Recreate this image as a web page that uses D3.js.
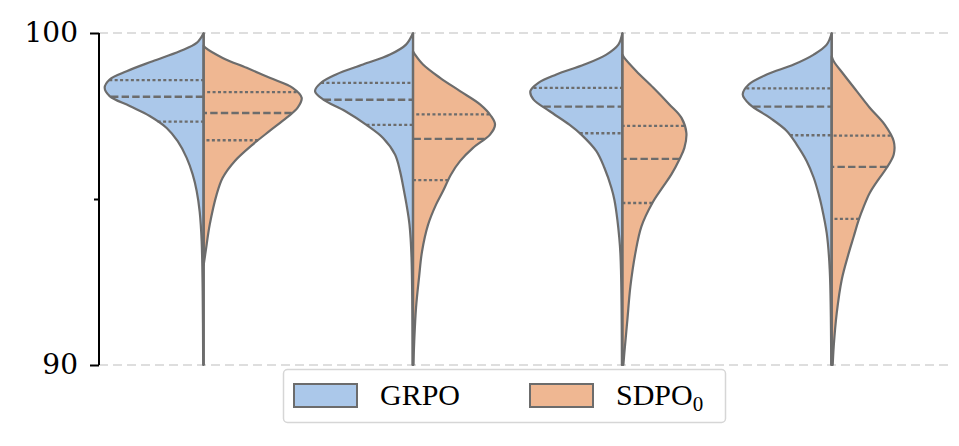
<!DOCTYPE html>
<html>
<head>
<meta charset="utf-8">
<script src="https://cdn.jsdelivr.net/npm/d3@7"></script>
<style>
  body { margin: 0; background: #fff; }
  svg { display: block; }
</style>
</head>
<body>
<div id="chart"></div>
<script>
// Four unlabeled groups on the x axis
const categories = ['1', '2', '3', '4'];
const seriesNames = ['GRPO', 'SDPO'];
const yTicks = [90, 95, 100];
const yTickLabels = ['90', '', '100'];

// Half-violin outlines: [score, relative density]
const grpoProfiles = [
    [[100, 0], [99.70, .07], [99.45, .24], [99.15, .51], [98.85, .77], [98.60, .94], [98.35, .99], [98.10, .94], [97.80, .74], [97.50, .54], [97.14, .37], [96.74, .26], [96.24, .17], [95.74, .11], [95.24, .07], [94.62, .04], [93.72, .02], [92.21, .01], [90, .005]],
    [[100, 0], [99.65, .07], [99.35, .23], [99.05, .50], [98.75, .77], [98.50, .92], [98.25, .98], [98.00, .90], [97.65, .68], [97.24, .47], [96.84, .30], [96.34, .18], [95.84, .13], [95.24, .09], [94.83, .065], [94.22, .035], [93.23, .015], [90, .005]],
    [[100, 0], [99.65, .04], [99.35, .16], [99.05, .38], [98.75, .66], [98.50, .84], [98.25, .92], [98.00, .89], [97.65, .73], [97.24, .53], [96.94, .41], [96.44, .26], [95.94, .18], [95.34, .11], [94.98, .08], [94.37, .05], [93.37, .02], [90, .005]],
    [[100, 0], [99.65, .05], [99.35, .18], [99.05, .38], [98.75, .65], [98.45, .83], [98.15, .89], [97.85, .82], [97.45, .62], [97.05, .45], [96.64, .35], [96.14, .25], [95.64, .18], [95.14, .13], [94.77, .10], [93.97, .05], [92.87, .02], [90, .005]]
];
const sdpoProfiles = [
    [[99.62, 0], [99.55, .02], [99.25, .19], [98.95, .43], [98.65, .66], [98.35, .89], [98.05, .98], [97.75, .94], [97.45, .83], [97.05, .66], [96.64, .49], [96.14, .31], [95.64, .19], [95.14, .13], [94.22, .06], [93.42, .02], [93.02, 0]],
    [[99.45, 0], [99.35, .02], [99.05, .10], [98.65, .27], [98.25, .47], [97.85, .67], [97.50, .78], [97.24, .82], [96.94, .77], [96.54, .60], [96.14, .47], [95.74, .38], [95.24, .30], [94.83, .23], [94.22, .15], [93.42, .09], [92.63, .06], [91.72, .03], [90.70, .012], [90, .004]],
    [[99.35, 0], [99.25, .02], [98.85, .14], [98.35, .31], [97.85, .47], [97.45, .59], [96.99, .64], [96.54, .62], [96.19, .57], [95.74, .49], [95.34, .40], [94.88, .30], [94.17, .19], [93.37, .13], [92.36, .08], [91.36, .05], [90.37, .02], [90, .01]],
    [[99.30, 0], [99.15, .02], [98.75, .12], [98.25, .25], [97.75, .38], [97.24, .53], [96.74, .62], [96.34, .62], [95.94, .55], [95.60, .47], [95.18, .38], [94.77, .32], [94.37, .27], [93.87, .22], [93.37, .17], [92.57, .10], [91.56, .05], [90.56, .02], [90, .01]]
];

// Quartiles [q1, median, q3]
const grpoQuartiles = [[97.33, 98.08, 98.58], [97.23, 97.99, 98.50], [96.98, 97.78, 98.35], [96.92, 97.78, 98.33]];
const sdpoQuartiles = [[96.77, 97.59, 98.22], [95.57, 96.81, 97.55], [94.88, 96.21, 97.20], [94.40, 95.97, 96.91]];

const colors = ['#abc8ea', '#efb792'];
const edgeColor = '#6c6c6c';

const width = 959;
const height = 446;
const margin = { left: 99, right: 23, top: 33, bottom: 81 };

const svg = d3.select('#chart').append('svg')
    .attr('width', width)
    .attr('height', height);

const x = d3.scaleBand()
    .domain(categories)
    .range([margin.left, 936.4]);

const y = d3.scaleLinear()
    .domain([90, 100])
    .range([height - margin.bottom, margin.top]);

// density -> half width in px
const w = d3.scaleLinear().domain([0, 1]).range([0, 100]);

// dashed grid lines at the labelled ticks
svg.append('g')
    .selectAll('line')
    .data([90, 100])
    .join('line')
    .attr('x1', margin.left)
    .attr('x2', 950)
    .attr('y1', d => y(d))
    .attr('y2', d => y(d))
    .attr('stroke', '#d4d4d4')
    .attr('stroke-width', 1.5)
    .attr('stroke-dasharray', '9,5');

function widthAt(profile, v) {
    // linear lookup of the outline at score v
    for (let i = 0; i < profile.length - 1; i++) {
        const a = profile[i], b = profile[i + 1];
        if (v <= a[0] && v >= b[0]) {
            const t = (a[0] - v) / (a[0] - b[0]);
            return a[1] + t * (b[1] - a[1]);
        }
    }
    return 0;
}

const violins = svg.append('g');

categories.forEach((cat, i) => {
    const cx = x(cat) + x.bandwidth() / 2;
    const halves = [
        { profile: grpoProfiles[i], quart: grpoQuartiles[i], side: -1, color: colors[0] },
        { profile: sdpoProfiles[i], quart: sdpoQuartiles[i], side: 1, color: colors[1] }
    ];

    halves.forEach(h => {
        const area = d3.area()
            .curve(d3.curveCatmullRom.alpha(0.5))
            .y(d => y(d[0]))
            .x0(cx)
            .x1(d => cx + h.side * w(d[1]));

        violins.append('path')
            .datum(h.profile)
            .attr('d', area)
            .attr('fill', h.color)
            .attr('stroke', edgeColor)
            .attr('stroke-width', 2.2)
            .attr('stroke-linejoin', 'round');

        h.quart.forEach((q, k) => {
            violins.append('line')
                .attr('x1', cx + h.side * w(widthAt(h.profile, q)))
                .attr('x2', cx)
                .attr('y1', y(q))
                .attr('y2', y(q))
                .attr('stroke', edgeColor)
                .attr('stroke-width', 2.3)
                .attr('stroke-dasharray', k === 1 ? '7.4,3.2' : '3,2.4');
        });
    });

    // redraw the shared centre line on top
    violins.append('line')
        .attr('x1', cx).attr('x2', cx)
        .attr('y1', y(100)).attr('y2', y(90))
        .attr('stroke', edgeColor)
        .attr('stroke-width', 2.2);
});

// y axis
const yAxis = d3.axisLeft(y)
    .tickValues(yTicks)
    .tickFormat((d, i) => yTickLabels[i])
    .tickSize(9)
    .tickPadding(12);

const gy = svg.append('g')
    .attr('transform', `translate(${margin.left},0)`)
    .call(yAxis);

gy.select('.domain')
    .attr('d', `M0,${y(100)}V${y(90)}`)
    .attr('stroke', '#000')
    .attr('stroke-width', 2);
gy.selectAll('.tick line')
    .attr('stroke', '#000')
    .attr('stroke-width', 2)
    .attr('x2', d => d === 95 ? -5 : -9);
gy.selectAll('.tick text')
    .attr('fill', '#000')
    .style('font-family', '"DejaVu Serif", serif')
    .style('font-size', '28px');

// legend
const legend = svg.append('g');
legend.append('rect')
    .attr('x', 283.5).attr('y', 369.5)
    .attr('width', 442).attr('height', 53)
    .attr('rx', 4)
    .attr('fill', '#fff')
    .attr('stroke', '#d6d6d6')
    .attr('stroke-width', 1.5);

const legendX = [294, 530];
seriesNames.forEach((name, i) => {
    legend.append('rect')
        .attr('x', legendX[i]).attr('y', 384)
        .attr('width', 63).attr('height', 23)
        .attr('fill', colors[i])
        .attr('stroke', edgeColor)
        .attr('stroke-width', 2);

    const t = legend.append('text')
        .attr('x', legendX[i] + 86)
        .attr('y', 405)
        .style('font-family', '"Liberation Serif", serif')
        .style('font-size', '30px')
        .attr('fill', '#000')
        .text(name);
    if (i === 1) {
        t.append('tspan')
            .attr('dy', 6)
            .style('font-size', '21px')
            .text('0');
    }
});
</script>
</body>
</html>
